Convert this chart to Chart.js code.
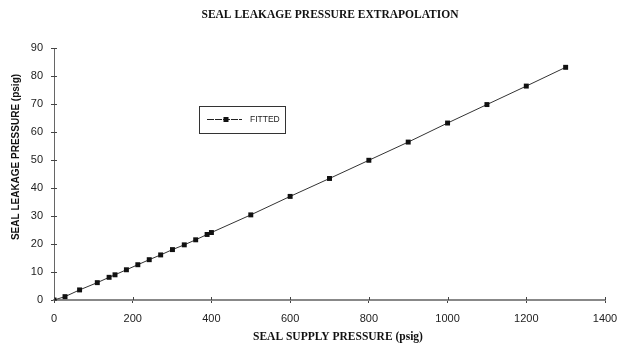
<!DOCTYPE html>
<html>
<head>
<meta charset="utf-8">
<script src="https://cdn.jsdelivr.net/npm/chart.js@4.4.1/dist/chart.umd.min.js"></script>
<style>
html,body{margin:0;padding:0;background:#fff;}
#wrap{width:620px;height:345px;position:relative;}
</style>
</head>
<body>
<div id="wrap"><canvas id="c" width="620" height="345"></canvas></div>
<script>
const chartTitle = "SEAL LEAKAGE PRESSURE EXTRAPOLATION";
const xTitle = "SEAL SUPPLY PRESSURE (psig)";
const yTitle = "SEAL LEAKAGE PRESSURE (psig)";
const seriesName = "FITTED";
const supplyPressure = [0, 28, 65, 110, 140, 155, 184, 213, 242, 271, 301, 331, 360, 389, 400, 500, 600, 700, 800, 900, 1000, 1100, 1200, 1300];
const leakagePressure = [0, 1.2, 3.6, 6.2, 8.1, 9.0, 10.8, 12.6, 14.4, 16.1, 18.0, 19.7, 21.5, 23.4, 24.1, 30.4, 37.0, 43.4, 49.9, 56.4, 63.2, 69.8, 76.4, 83.1];
const xTicks = [0, 200, 400, 600, 800, 1000, 1200, 1400];
const yTicks = [0, 10, 20, 30, 40, 50, 60, 70, 80, 90];

const points = supplyPressure.map((x, i) => ({x: x, y: leakagePressure[i]}));

const decor = {
  id: 'decor',
  afterDraw(chart) {
    const ctx = chart.ctx;
    const xs = chart.scales.x, ys = chart.scales.y;
    const ca = chart.chartArea;
    ctx.save();
    ctx.strokeStyle = '#444';
    ctx.lineWidth = 1;
    ctx.beginPath();
    xTicks.forEach(v => {
      const px = Math.round(xs.getPixelForValue(v)) + 0.5;
      ctx.moveTo(px, ca.bottom);
      ctx.lineTo(px, ca.bottom - 3);
    });
    yTicks.forEach(v => {
      const py = Math.round(ys.getPixelForValue(v)) + 0.5;
      ctx.moveTo(ca.left, py);
      ctx.lineTo(ca.left + 3, py);
    });
    ctx.stroke();
    // main title
    ctx.fillStyle = '#111';
    ctx.textAlign = 'center';
    ctx.textBaseline = 'middle';
    ctx.font = 'bold 11.5px "Liberation Serif", "DejaVu Serif", serif';
    ctx.fillText(chartTitle, 330, 15);
    // x title
    ctx.fillText(xTitle, 338, 337);
    // y title
    ctx.save();
    ctx.translate(16, 157);
    ctx.rotate(-Math.PI / 2);
    ctx.font = 'bold 10px "Liberation Sans", Arial, sans-serif';
    ctx.fillText(yTitle, 0, 0);
    ctx.restore();
    // legend box
    const bx = 199.5, by = 106.5, bw = 86, bh = 27;
    ctx.strokeStyle = '#333';
    ctx.strokeRect(bx, by, bw, bh);
    const cy = 119.5;
    ctx.beginPath();
    ctx.strokeStyle = '#222';
    ctx.setLineDash([7, 1]);
    ctx.moveTo(207, cy);
    ctx.lineTo(242, cy);
    ctx.stroke();
    ctx.setLineDash([]);
    ctx.fillStyle = '#111';
    ctx.fillRect(226 - 2.5, cy - 2.5, 5, 5);
    ctx.font = '8.5px "Liberation Sans Narrow", "Liberation Sans", Arial, sans-serif';
    ctx.textAlign = 'left';
    ctx.fillStyle = '#222';
    ctx.fillText(chart.data.datasets[0].label, 250, cy + 0.5);
    ctx.restore();
  }
};

new Chart(document.getElementById('c'), {
  type: 'scatter',
  data: {
    datasets: [{
      label: seriesName,
      data: points,
      showLine: true,
      borderColor: '#333',
      borderWidth: 1,
      backgroundColor: '#111',
      pointBackgroundColor: '#111',
      pointBorderColor: '#111',
      pointBorderWidth: 0,
      pointStyle: 'rect',
      pointRadius: 3.5,
      tension: 0
    }]
  },
  options: {
    responsive: false,
    animation: false,
    events: [],
    layout: {padding: {left: 0, right: 15, top: 48, bottom: 0}},
    plugins: {
      legend: {display: false},
      tooltip: {enabled: false},
      title: {display: false}
    },
    scales: {
      x: {
        type: 'linear',
        min: 0, max: 1400,
        afterBuildTicks(s) { s.ticks = xTicks.map(v => ({value: v})); },
        afterFit(s) { s.height = 45; s.paddingLeft = 0; s.paddingRight = 0; },
        border: {display: true, color: '#888', width: 2},
        grid: {display: true, drawOnChartArea: false, drawTicks: true, tickLength: 3, color: '#444'},
        ticks: {color: '#222', padding: 9, maxRotation: 0, callback: v => String(v), font: {family: '"Liberation Sans", Arial, sans-serif', size: 11}},
        title: {display: false}
      },
      y: {
        type: 'linear',
        min: 0, max: 90,
        afterBuildTicks(s) { s.ticks = yTicks.map(v => ({value: v})); },
        afterFit(s) { s.width = 54; s.paddingTop = 0; s.paddingBottom = 0; },
        border: {display: true, color: '#666', width: 1},
        grid: {display: true, drawOnChartArea: false, drawTicks: true, tickLength: 3, color: '#444'},
        ticks: {color: '#222', padding: 8, callback: v => String(v), font: {family: '"Liberation Sans", Arial, sans-serif', size: 11}},
        title: {display: false}
      }
    }
  },
  plugins: [decor]
});
</script>
</body>
</html>
